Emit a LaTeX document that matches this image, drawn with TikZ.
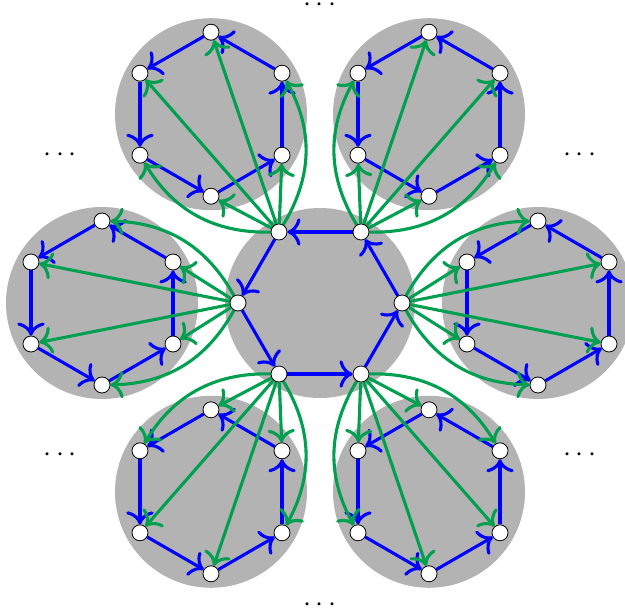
\documentclass[tikz,border=0pt]{standalone}
\usetikzlibrary{arrows.meta}
\definecolor{diskgray}{RGB}{179,179,179}
\definecolor{edgeblue}{RGB}{0,0,255}
\definecolor{edgegreen}{RGB}{0,160,80}
\pgfdeclarelayer{bg}
\pgfdeclarelayer{edges}
\pgfsetlayers{bg,edges,main}
\begin{document}
\begin{tikzpicture}[x=0.5pt,y=0.5pt,
  vtx/.style={circle,draw=black,fill=white,line width=0.4pt,minimum size=8pt,inner sep=0pt},
  disk/.style={fill=diskgray},
  cyc/.style={draw=edgeblue,line width=1.55pt,-{To[scale=1.3]}},
  link/.style={draw=edgegreen,line width=1.55pt,-{To[scale=1.3]}},
  dotlabel/.style={font=\Large,inner sep=0pt,yshift=-4.1pt}]
\useasboundingbox (-320,-311) rectangle (305,303);
% disks
\begin{pgfonlayer}{bg}
  \fill[disk] (0,0) circle (95);
  \foreach \i in {0,...,5} {
    \fill[disk] (60*\i:218) circle (96);
  }
\end{pgfonlayer}
% central hexagon vertices
\foreach \i in {0,...,5} {
  \node[vtx] (c\i) at (60*\i:82) {};
}
% outer hexagon vertices
\foreach \i in {0,...,5} {
  \foreach \k in {0,...,5} {
    \node[vtx] (o\i-\k) at ([shift={(60*\i:218)}]30+60*\k:82) {};
  }
}
% dots
\foreach \a/\n in {90/d1,150/d2,210/d3,270/d4,330/d5,30/d6} {
  \node[dotlabel] (\n) at (\a:300) {\smash{$\cdots$}};
}
\begin{pgfonlayer}{edges}
  % blue cycles
  \foreach \i in {0,...,5} {
    \pgfmathtruncatemacro\j{mod(\i+1,6)}
    \draw[cyc] (c\i) -- (c\j);
  }
  \foreach \i in {0,...,5} {
    \foreach \k in {0,...,5} {
      \pgfmathtruncatemacro\j{mod(\k+1,6)}
      \draw[cyc] (o\i-\k) -- (o\i-\j);
    }
  }
  % green links
  \foreach \i in {0,...,5} {
    \foreach \k in {0,...,5} {
      \pgfmathtruncatemacro\d{mod(\k-\i+12,6)}
      \ifnum\d=1
        \draw[link] (c\i) to[bend left=30] (o\i-\k);
      \else
        \ifnum\d=4
          \draw[link] (c\i) to[bend right=30] (o\i-\k);
        \else
          \draw[link] (c\i) -- (o\i-\k);
        \fi
      \fi
    }
  }
\end{pgfonlayer}
\end{tikzpicture}
\end{document}
